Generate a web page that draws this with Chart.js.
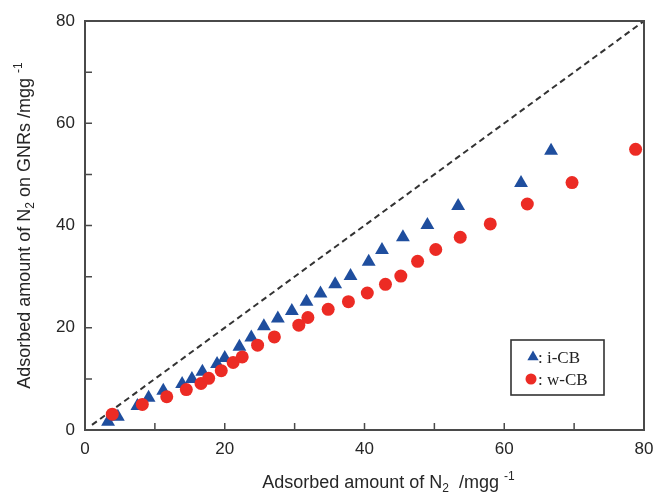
<!DOCTYPE html>
<html>
<head>
<meta charset="utf-8">
<script src="https://cdn.jsdelivr.net/npm/chart.js@4/dist/chart.umd.min.js"></script>
<style>
  html, body { margin: 0; padding: 0; background: #ffffff; }
  #wrap { width: 655px; height: 492px; }
</style>
</head>
<body>
<div id="wrap"><canvas id="chart" width="655" height="492"></canvas></div>
<script>
// N2 adsorbed on GNRs versus total N2 adsorbed (mg/g)
const seriesNames = ['i-CB', 'w-CB'];

const icbX = [3.3, 4.7, 7.5, 9.1, 11.2, 13.9, 15.3, 16.8, 18.9, 20.0, 22.1, 23.8, 25.6,
              27.6, 29.6, 31.7, 33.7, 35.8, 38.0, 40.6, 42.5, 45.5, 49.0, 53.4, 62.4, 66.7];
const icbY = [1.6, 2.6, 4.7, 6.3, 7.7, 9.0, 10.0, 11.4, 12.9, 14.1, 16.3, 18.1, 20.3,
              21.8, 23.3, 25.1, 26.7, 28.5, 30.1, 32.9, 35.2, 37.7, 40.1, 43.8, 48.3, 54.6];

const wcbX = [3.9, 8.2, 11.7, 14.5, 16.6, 17.7, 19.5, 21.2, 22.5, 24.7, 27.1, 30.6, 31.9,
              34.8, 37.7, 40.4, 43.0, 45.2, 47.6, 50.2, 53.7, 58.0, 63.3, 69.7, 78.8];
const wcbY = [3.1, 5.0, 6.5, 7.9, 9.1, 10.1, 11.6, 13.2, 14.3, 16.6, 18.2, 20.5, 22.0,
              23.6, 25.1, 26.8, 28.5, 30.1, 33.0, 35.3, 37.7, 40.3, 44.2, 48.4, 54.9];

// y = x reference
const diagonalX = [1, 80];
const diagonalY = [1, 80];

const axisMin = 0;
const axisMax = 80;
const majorTicks = [0, 20, 40, 60, 80];
const minorTicks = [10, 30, 50, 70];

const toPoints = (xs, ys) => xs.map((x, i) => ({ x: x, y: ys[i] }));

const TEXT_COLOR = '#262626';
const FRAME_COLOR = '#4a4a4a';
const BLUE = '#1f4e9e';
const RED = '#ec2b24';

Chart.defaults.font.family = "'Liberation Sans', Arial, sans-serif";
Chart.defaults.color = TEXT_COLOR;

// Draw a run of text pieces with optional sub/superscript, centred on (cx, baseline)
function drawRichText(ctx, parts, cx, baseline, size, rotate) {
  ctx.save();
  ctx.translate(cx, baseline);
  if (rotate) ctx.rotate(-Math.PI / 2);
  const family = "'Liberation Sans', Arial, sans-serif";
  const fontFor = p => (p.sub || p.sup ? Math.round(size * 0.66) : size) + 'px ' + family;
  let total = 0;
  parts.forEach(p => { ctx.font = fontFor(p); total += ctx.measureText(p.t).width; });
  let x = -total / 2;
  ctx.fillStyle = TEXT_COLOR;
  ctx.textBaseline = 'alphabetic';
  ctx.textAlign = 'left';
  parts.forEach(p => {
    ctx.font = fontFor(p);
    const dy = p.sub ? size * 0.22 : (p.sup ? -size * 0.45 : 0);
    ctx.fillText(p.t, x, dy);
    x += ctx.measureText(p.t).width;
  });
  ctx.restore();
}

const framePlugin = {
  id: 'frame',
  afterDraw(chart) {
    const { ctx, chartArea: a, scales } = chart;
    ctx.save();
    // inward tick marks on the bottom and left axes
    ctx.strokeStyle = FRAME_COLOR;
    ctx.lineWidth = 1.5;
    const len = 7;
    majorTicks.concat(minorTicks).forEach(v => {
      const px = scales.x.getPixelForValue(v);
      const py = scales.y.getPixelForValue(v);
      ctx.beginPath();
      ctx.moveTo(px, a.bottom); ctx.lineTo(px, a.bottom - len);
      ctx.moveTo(a.left, py); ctx.lineTo(a.left + len, py);
      ctx.stroke();
    });
    // plot frame
    ctx.lineWidth = 2;
    ctx.strokeRect(a.left, a.top, a.right - a.left, a.bottom - a.top);

    // legend box
    const bw = 93, bh = 55;
    const bx = a.right - 40 - bw, by = a.bottom - 35 - bh;
    ctx.fillStyle = '#ffffff';
    ctx.fillRect(bx, by, bw, bh);
    ctx.strokeStyle = '#333333';
    ctx.lineWidth = 1.6;
    ctx.strokeRect(bx, by, bw, bh);

    const tx = bx + 22, ty = by + 17, cy2 = by + 39;
    ctx.fillStyle = BLUE;
    const r = 6.5;
    ctx.beginPath();
    ctx.moveTo(tx, ty - r);
    ctx.lineTo(tx + r * 0.866, ty + r * 0.5);
    ctx.lineTo(tx - r * 0.866, ty + r * 0.5);
    ctx.closePath();
    ctx.fill();
    ctx.fillStyle = RED;
    ctx.beginPath();
    ctx.arc(bx + 20, cy2, 5.5, 0, Math.PI * 2);
    ctx.fill();

    ctx.fillStyle = '#222222';
    ctx.font = "17px 'Liberation Serif', 'Times New Roman', serif";
    ctx.textBaseline = 'alphabetic';
    ctx.textAlign = 'left';
    ctx.fillText(': ' + seriesNames[0], bx + 27, by + 23);
    ctx.fillText(': ' + seriesNames[1], bx + 27, by + 45);

    // axis titles
    drawRichText(ctx, [
      { t: 'Adsorbed amount of N' }, { t: '2', sub: true }, { t: '  /mgg ' }, { t: '-1', sup: true }
    ], (a.left + a.right) / 2 + 24, a.bottom + 58, 18, false);
    drawRichText(ctx, [
      { t: 'Adsorbed amount of N' }, { t: '2', sub: true }, { t: ' on GNRs /mgg ' }, { t: '-1', sup: true }
    ], a.left - 55, (a.top + a.bottom) / 2, 18, true);
    ctx.restore();
  }
};

new Chart(document.getElementById('chart'), {
  type: 'scatter',
  data: {
    datasets: [
      {
        type: 'line',
        label: 'y = x',
        data: toPoints(diagonalX, diagonalY),
        borderColor: '#333333',
        borderWidth: 2,
        borderDash: [6, 4],
        pointRadius: 0,
        fill: false,
        order: 3
      },
      {
        label: seriesNames[0],
        data: toPoints(icbX, icbY),
        pointStyle: 'triangle',
        pointRadius: 8,
        backgroundColor: BLUE,
        borderColor: BLUE,
        borderWidth: 0,
        order: 2
      },
      {
        label: seriesNames[1],
        data: toPoints(wcbX, wcbY),
        pointStyle: 'circle',
        pointRadius: 6.5,
        backgroundColor: RED,
        borderColor: RED,
        borderWidth: 0,
        order: 1
      }
    ]
  },
  options: {
    responsive: false,
    animation: false,
    events: [],
    layout: { padding: { top: 21, right: 11, left: 0, bottom: 0 } },
    plugins: { legend: { display: false }, tooltip: { enabled: false } },
    scales: {
      x: {
        type: 'linear',
        min: axisMin,
        max: axisMax,
        grid: { display: false, drawTicks: false },
        border: { display: false },
        afterBuildTicks: s => { s.ticks = majorTicks.map(v => ({ value: v })); },
        afterFit: s => { s.height = 62; s.paddingLeft = 0; s.paddingRight = 0; },
        ticks: { font: { size: 17 }, color: TEXT_COLOR, padding: 9, maxRotation: 0 }
      },
      y: {
        type: 'linear',
        min: axisMin,
        max: axisMax,
        grid: { display: false, drawTicks: false },
        border: { display: false },
        afterBuildTicks: s => { s.ticks = majorTicks.map(v => ({ value: v })); },
        afterFit: s => { s.width = 85; s.paddingTop = 0; s.paddingBottom = 0; },
        ticks: { font: { size: 17 }, color: TEXT_COLOR, padding: 10 }
      }
    }
  },
  plugins: [framePlugin]
});
</script>
</body>
</html>
